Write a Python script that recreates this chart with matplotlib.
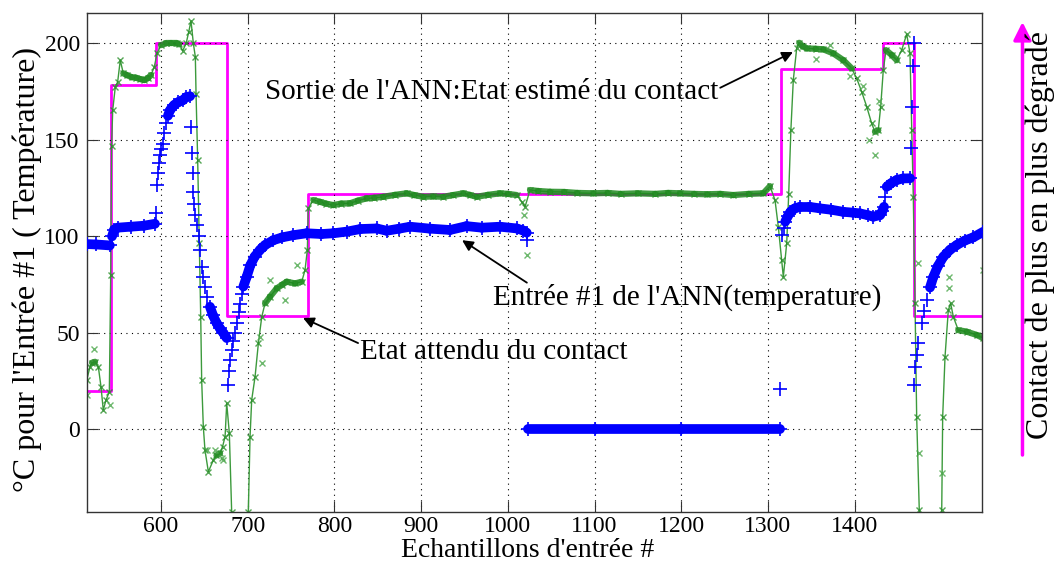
import numpy as np
import matplotlib
matplotlib.use('Agg')
import matplotlib.pyplot as plt
from matplotlib.patches import FancyArrowPatch

plt.rcParams['font.family'] = ['Liberation Serif', 'DejaVu Serif']

#### DATA ####
# expected contact state (step curve)
step_x = [514.3, 541.9, 594.2, 675.8, 769.2, 1315.1, 1433.1, 1468.9, 1547.3]
step_y = [20, 178.5, 200, 58.5, 122, 186.5, 200, 58.5, 58.5]

# ANN input #1 (temperature), '+' markers
temp_x = [514.3, 525, 541, 543.5, 546, 550, 565, 580, 593,
          594.2, 594.8, 596.2, 597.3, 598.8, 600.5, 602, 603.5, 605.8, 608, 610.4,
          615, 619.7, 625, 629, 633.5,
          634.6, 635.8, 636.6, 637.3, 638.1, 639.2, 641.2, 643.5, 645, 647, 648.8,
          650.8, 653.5, 656.5, 660, 664.2, 668, 671.9, 675.8,
          677, 678.5, 679.6, 681.5, 683.4, 685.4, 687.3, 689.5, 691.1, 693, 695,
          698.8, 703, 708, 714.2, 720, 729.6, 740, 752.6, 768,
          785, 798.7, 815, 830, 848.8, 860.3, 875, 887.2, 910, 933.3, 952.5, 970,
          991, 1010.3, 1018, 1021.8, 1022.5,
          1023.5, 1100, 1200, 1313.5, 1314,
          1315.9, 1318, 1320, 1323, 1326, 1331, 1337, 1348, 1360, 1373, 1387,
          1398, 1406.2, 1415, 1421.6, 1429.3, 1432, 1433.9, 1435, 1437, 1442,
          1448.5, 1456, 1463.9, 1464.5, 1465.9, 1467, 1468.3,
          1468.6, 1469.7, 1471.5, 1473.5, 1477.4, 1480, 1483.2, 1487, 1490.8,
          1496, 1502.3, 1510, 1517.8, 1527, 1537, 1548.5]
temp_y = [96, 95.8, 95.3, 100, 103.5, 104.5, 105, 105.5, 106.5,
          112, 126.6, 132.8, 138, 142, 145.5, 148, 153.5, 158.7, 162.5, 165.4,
          168, 169.5, 170.5, 172.1, 172.6,
          156.6, 143, 132.8, 123, 117, 111, 106, 100, 92.8, 84.3, 79,
          73.9, 68.5, 63.5, 59, 55, 52.3, 49.9, 47.3,
          23, 30, 36, 41, 46, 50, 55, 61, 65, 70, 74,
          79, 85, 89.5, 93, 95.5, 98, 99.5, 100.6, 101.6,
          101.2, 101.6, 102.5, 103.8, 104.1, 102.9, 104, 105, 104, 103.3, 105.3, 104.5,
          105, 104.1, 103, 101.9, 98,
          0, 0, 0, 0, 20.7,
          100.5, 104.5, 107.6, 110.5, 112.7, 114.5, 115.3, 115.3, 114.5, 113.8, 112.7,
          112.3, 111.9, 111, 110.2, 111, 113, 115.3, 120.5, 125.7, 127.5,
          129.2, 130, 130.1, 145.6, 166.8, 188.2, 200,
          23, 32.4, 38.5, 44.6, 54.9, 61.5, 67, 73.5, 79,
          84.5, 89.4, 93, 95.5, 97.8, 99.5, 102.4]

# ANN output: estimated contact state, 'x' markers + line
ann_x = [514.3, 518.1, 520.5, 523.9, 527.7, 530.8, 533.4, 536.6, 540.4, 542, 543,
         544.3, 547.3, 550, 553, 556.5, 560.4, 566, 571.2, 576, 580.7, 585, 588.5,
         592.3, 595.4, 600, 605.8, 612, 618, 621.1, 625, 629, 632, 634.6, 637.3,
         639.6, 640.4, 642.3, 644.2, 645.8, 646.9, 648.8, 650.7, 654.6, 660.4, 664,
         668.1, 671, 673.9, 675.8, 678.8, 681.5, 690, 700.7, 702.7, 704.6, 708.5,
         712.3, 716.2, 720, 725.7, 733.4, 740, 745, 754.6, 762.3, 766.1, 768.8,
         769.9, 775.7, 783.4, 790, 798.7, 808, 817.9, 827, 837.2, 846, 856.4, 870,
         883.4, 892, 902.6, 914, 925.6, 937, 948.7, 956, 964.1, 977, 991, 1000,
         1010.3, 1016, 1019.9, 1025.6, 1035, 1048.7, 1065, 1080, 1098.7, 1115,
         1130, 1150, 1170, 1185, 1198.6, 1215, 1230, 1245, 1260, 1278, 1294.7,
         1302.4, 1308.2, 1312, 1315.9, 1317.8, 1321.7, 1324, 1326.5, 1329.3,
         1333.2, 1336.2, 1340, 1344.8, 1355, 1364, 1375.5, 1387, 1396.7, 1402.4,
         1408.2, 1414, 1419.7, 1423.5, 1427.3, 1430.1, 1433.1, 1436.2, 1442.8,
         1448.6, 1454.3, 1460.1, 1463.9, 1465.9, 1467.7, 1469.7, 1471.6, 1474.6,
         1487, 1500.5, 1501.6, 1504.3, 1508.1, 1510.8, 1513.9, 1519.6, 1529.3,
         1540.8, 1548.5]
ann_y = [25.5, 32.4, 34.5, 35, 32.4, 22, 10, 15.2, 19.5, 80, 147,
         165.4, 177.5, 180, 191.3, 184.5, 183.6, 182.5, 182.2, 181.5, 181, 182, 183.6,
         187.9, 194.8, 199.1, 200, 200, 200, 199.5, 196.2, 200, 206, 211.6, 200,
         193, 174, 139.5, 96.4, 58.3, 25.5, 1.3, -10.7, -22, -15.9, -13.5,
         -12.4, -9, -3.8, 13.5, -2, -42.7, -75, -42.7, -3.8, 15.2, 27.3,
         44.6, 58.3, 65.3, 68.7, 73, 75, 76.5, 75.6, 76.5, 82.5, 93,
         114.5, 118.8, 117.9, 117, 116.2, 117, 117.1, 118.5, 119.7, 120, 120.5, 121.5,
         122.3, 121.4, 120.5, 120.7, 120.5, 121.4, 122.3, 121.5, 120.5, 121.5, 122.3, 122,
         121.4, 117.9, 115.3, 124, 123.5, 123.1, 123, 122.5, 122.3, 122.5,
         122, 122.3, 122, 122.5, 122.3, 122, 121.8, 122, 121.4, 122, 122.3,
         126, 118.8, 105, 87.7, 79, 96.4, 122, 155, 181,
         197.4, 200.3, 198.5, 197.4, 197.2, 196.9, 194.8, 191.3, 187, 181.9,
         174.9, 167.2, 158.5, 154.2, 155, 167.2, 186.2, 196.5, 194,
         191.3, 196.5, 204.8, 194.8, 155, 120.5, 65.3, 6.5, -41.8,
         -80, -41.8, 6.5, 37.6, 61.8, 65.3, 58.3, 51.4, 50.6,
         48.9, 47.2]

# scattered ANN output samples off the line
ann_out_x = [514.3, 522.7, 541.2, 756.5, 725.7, 743, 714.2, 716.2, 1018.7, 1022.2,
             1423.5, 1473.5, 1508.6, 1508.6, 1547.7, 1474.6, 1500.5, 652.7, 662.3,
             670, 671.9, 1355, 1395, 1410, 1417, 1428, 1372]
ann_out_y = [17.8, 41.4, 12.6, 85, 77.3, 67, 48, 34.2, 111, 90.5,
             142.1, 86, 79, 73.2, 82.5, -12.4, -22.8, -10.7, -10.7,
             -15, -16, 192, 183, 178, 150, 170, 199]

x_ticks = [600, 700, 800, 900, 1000, 1100, 1200, 1300, 1400]
y_ticks = [0, 50, 100, 150, 200]


def draw_band(ax, xs, ys, color, lw, max_slope, alpha=1.0, z=2):
    # thick band where samples are dense (gentle slope)
    for i in range(len(xs) - 1):
        dx = xs[i + 1] - xs[i]
        dy = ys[i + 1] - ys[i]
        if dx > 0 and abs(dy) <= max_slope * dx:
            ax.plot(xs[i:i + 2], ys[i:i + 2], color=color, lw=lw, alpha=alpha,
                    solid_capstyle='round', zorder=z)


#### FIGURE ####
fig = plt.figure(figsize=(10.6, 5.67), dpi=100)
ax = fig.add_axes([0.0818, 0.0975, 0.8449, 0.8801])

# expected state
ax.plot(step_x, step_y, drawstyle='steps-post', color='#ff00ff', lw=2, zorder=1)

# ANN output
ax.plot(ann_x, ann_y, color='#3c9a3c', lw=1.0, zorder=2)
draw_band(ax, ann_x, ann_y, '#1f8a1f', 4.5, 0.6, alpha=0.85, z=2)
ax.plot(ann_x, ann_y, 'x', color='#2a8f2a', ms=5, mew=1, alpha=0.8, zorder=2)
ax.plot(ann_out_x, ann_out_y, 'x', color='#4aa64a', ms=5, mew=1, alpha=0.8, zorder=2)

# temperature input
draw_band(ax, temp_x, temp_y, '#0000ff', 7, 1.5, z=3)
ax.plot(temp_x, temp_y, '+', color='#0000ff', ms=10, mew=1.2, zorder=3)

ax.set_xlim(514.3, 1547.3)
ax.set_ylim(-42.7, 215.9)
ax.set_xticks(x_ticks)
ax.set_yticks(y_ticks)
ax.tick_params(direction='in', length=8, width=0.8, top=True, right=True,
               labelsize=17, colors='#333333', labelcolor='black')
ax.tick_params(axis='x', pad=3)
ax.tick_params(axis='y', pad=5)
ax.grid(True, color='black', linestyle=(0, (1, 4)), lw=0.8)
for s in ax.spines.values():
    s.set_linewidth(1.0)
    s.set_color('#333333')

ax.set_xlabel("Echantillons d'entrée #", fontsize=20)
ax.xaxis.set_label_coords(0.492, -0.052)
ax.set_ylabel("°C pour l'Entrée #1 ( Température)", fontsize=23)
ax.yaxis.set_label_coords(-0.05, 0.485)

# annotations
arrow_kw = dict(arrowstyle='-|>', color='black', lw=1.3, mutation_scale=16,
                shrinkA=0, shrinkB=0)
ax.annotate('', xy=(1328.9, 195.5), xytext=(1245, 177), arrowprops=arrow_kw)
ax.text(1242.5, 175, "Sortie de l'ANN:Etat estimé du contact", fontsize=21,
        ha='right', va='center')
ax.annotate('', xy=(947.3, 98), xytext=(1022, 76), arrowprops=arrow_kw)
ax.text(983, 68.6, "Entrée #1 de l'ANN(temperature)", fontsize=21,
        ha='left', va='center')
ax.annotate('', xy=(763.8, 57.7), xytext=(827.3, 44.7), arrowprops=arrow_kw)
ax.text(829.5, 40, "Etat attendu du contact", fontsize=21, ha='left', va='center')

# right side indicator
fig.add_artist(FancyArrowPatch((0.9646, 0.1975), (0.9646, 0.9612),
                               transform=fig.transFigure, arrowstyle='-|>',
                               mutation_scale=27, color='#ff00ff', lw=2.5,
                               shrinkA=0, shrinkB=0))
fig.text(0.981, 0.585, "Contact de plus en plus dégradé", rotation=90,
         fontsize=23, ha='center', va='center')

fig.savefig('out.png', dpi=100)
